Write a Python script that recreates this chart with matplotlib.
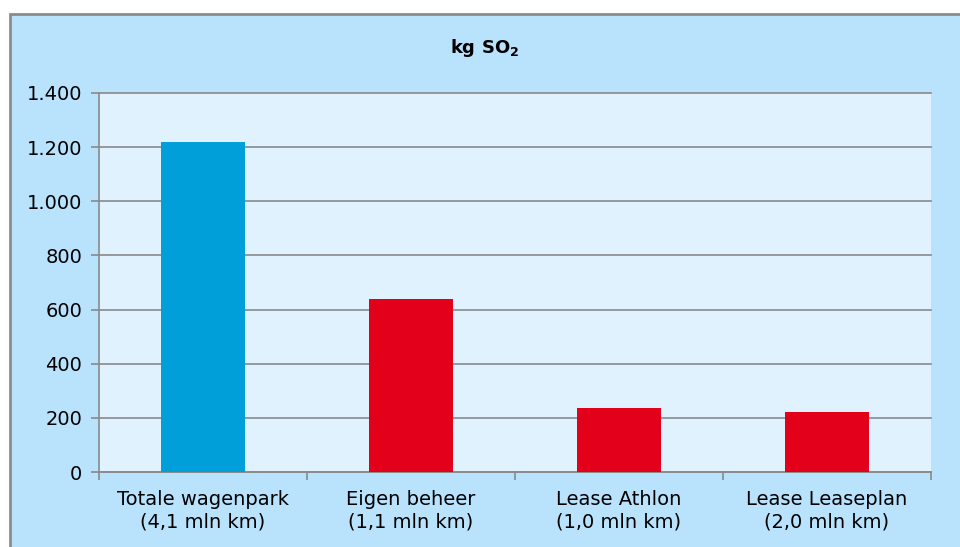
"""
Bar chart of SO2 emissions per vehicle fleet segment
"""

### Import modules
import numpy as np
import matplotlib
matplotlib.use('Agg')
import matplotlib.pyplot as plt
from matplotlib.patches import Rectangle

### Data
categories = ['Totale wagenpark\n(4,1 mln km)', 'Eigen beheer\n(1,1 mln km)',
              'Lease Athlon\n(1,0 mln km)', 'Lease Leaseplan\n(2,0 mln km)']
so2 = [1220, 640, 236, 221]
yticks = [0, 200, 400, 600, 800, 1000, 1200, 1400]
yticklabels = ['0', '200', '400', '600', '800', '1.000', '1.200', '1.400']
barcolors = ['#009fda', '#e2001a', '#e2001a', '#e2001a']

### Plot figure
plt.rc('font', family='DejaVu Sans')
fig = plt.figure(figsize=(9.6, 5.47), dpi=100)
fig.patch.set_facecolor('white')

# outer chart frame (cut off at right and bottom)
frame = Rectangle((10/960., -0.05), 1.2, 1 - 14/547. + 0.05,
                  transform=fig.transFigure, facecolor='#b9e3fd',
                  edgecolor='#8c8c8c', linewidth=2, zorder=-5)
fig.add_artist(frame)

ax = fig.add_axes([99/960., 75/547., 832/960., 379/547.])
ax.set_zorder(2)
ax.set_facecolor('#dff2fd')

x = np.arange(len(categories))
ax.bar(x, so2, width=0.404, color=barcolors, zorder=3)

ax.set_xlim(-0.5, len(categories) - 0.5)
ax.set_ylim(0, 1400)
ax.set_yticks(yticks)
ax.set_yticklabels(yticklabels, fontsize=14)
ax.yaxis.grid(True, color='#8a8a8a', linewidth=1.2, zorder=1)
ax.set_axisbelow(True)
for gl in ax.get_ygridlines():
    gl.set_clip_on(False)

ax.set_xticks(np.arange(-0.5, len(categories), 1))
ax.set_xticklabels([])
ax.set_xticks(x, minor=True)
ax.set_xticklabels(categories, minor=True, fontsize=14, linespacing=1.25)
ax.tick_params(axis='x', which='minor', length=0, pad=13)
ax.tick_params(axis='x', which='major', length=6, width=1.2,
               color='#8a8a8a', direction='out')
ax.tick_params(axis='y', length=6, width=1.2, color='#8a8a8a',
               direction='out', pad=6)

for side in ['top', 'right']:
    ax.spines[side].set_visible(False)
for side in ['left', 'bottom']:
    ax.spines[side].set_color('#8a8a8a')
    ax.spines[side].set_linewidth(1.2)

fig.text(485/960., 1 - 48/547., r'kg SO$_\mathbf{2}$', ha='center',
         va='center', fontsize=13, fontweight='bold')

plt.savefig('out.png', dpi=100, facecolor=fig.get_facecolor())
